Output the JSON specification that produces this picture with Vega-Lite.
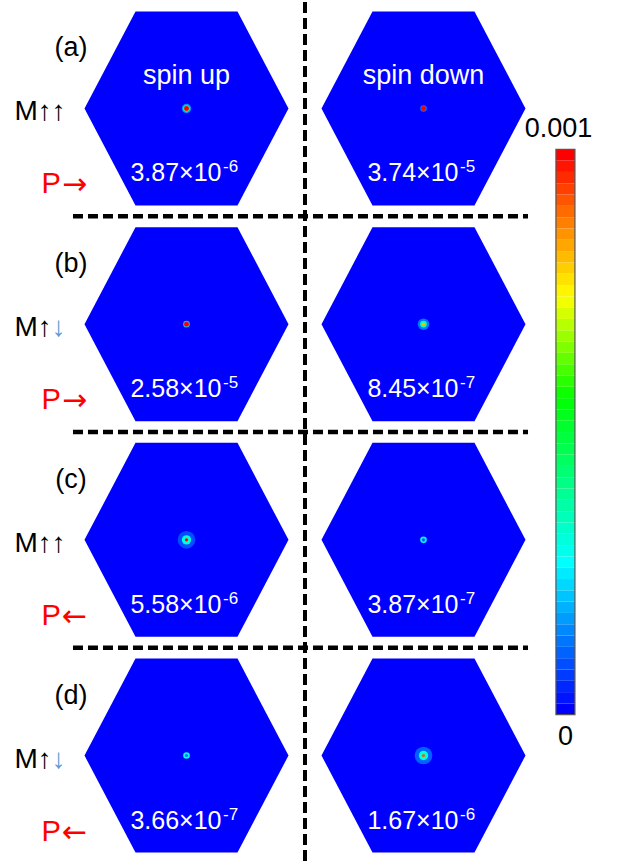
{
  "$schema": "https://vega.github.io/schema/vega-lite/v6.json",
  "width": 618,
  "height": 867,
  "autosize": {"type": "fit", "contains": "padding"},
  "padding": 0,
  "background": "white",
  "config": {"view": {"stroke": null}},
  "datasets": {
    "cells": [
      {"col": 1, "row": 0, "mant": "3.87×10", "exp": "-6"},
      {"col": 2, "row": 0, "mant": "3.74×10", "exp": "-5"},
      {"col": 1, "row": 1, "mant": "2.58×10", "exp": "-5"},
      {"col": 2, "row": 1, "mant": "8.45×10", "exp": "-7"},
      {"col": 1, "row": 2, "mant": "5.58×10", "exp": "-6"},
      {"col": 2, "row": 2, "mant": "3.87×10", "exp": "-7"},
      {"col": 1, "row": 3, "mant": "3.66×10", "exp": "-7"},
      {"col": 2, "row": 3, "mant": "1.67×10", "exp": "-6"}
    ],
    "panels": [
      {"row": 0, "panel": "(a)", "m2": "↑", "dir": "→"},
      {"row": 1, "panel": "(b)", "m2": "↓", "dir": "→"},
      {"row": 2, "panel": "(c)", "m2": "↑", "dir": "←"},
      {"row": 3, "panel": "(d)", "m2": "↓", "dir": "←"}
    ],
    "spots": [
      {"col": 1, "row": 0, "ring": 4, "v": 0.00015},
      {"col": 1, "row": 0, "ring": 3, "v": 0.00035},
      {"col": 1, "row": 0, "ring": 2, "v": 0.001},
      {"col": 2, "row": 0, "ring": 3, "v": 0.00012},
      {"col": 2, "row": 0, "ring": 2, "v": 0.001},
      {"col": 1, "row": 1, "ring": 3, "v": 0.0002},
      {"col": 1, "row": 1, "ring": 2, "v": 0.001},
      {"col": 2, "row": 1, "ring": 5, "v": 0.00012},
      {"col": 2, "row": 1, "ring": 3, "v": 0.00033},
      {"col": 2, "row": 1, "ring": 1, "v": 0.0008},
      {"col": 1, "row": 2, "ring": 6, "v": 0.00008},
      {"col": 1, "row": 2, "ring": 4, "v": 0.0003},
      {"col": 1, "row": 2, "ring": 1, "v": 0.001},
      {"col": 2, "row": 2, "ring": 3, "v": 0.00025},
      {"col": 2, "row": 2, "ring": 1, "v": 0.00008},
      {"col": 1, "row": 3, "ring": 3, "v": 0.0003},
      {"col": 1, "row": 3, "ring": 1, "v": 0.00012},
      {"col": 2, "row": 3, "ring": 6, "v": 0.0001},
      {"col": 2, "row": 3, "ring": 4, "v": 0.0003},
      {"col": 2, "row": 3, "ring": 1, "v": 0.0009}
    ],
    "seps": [{"row": 0.5}, {"row": 1.5}, {"row": 2.5}],
    "bands": [
      {"lo": 0, "hi": 0.00002}, {"lo": 0.00002, "hi": 0.00004}, {"lo": 0.00004, "hi": 0.00006}, {"lo": 0.00006, "hi": 0.00008}, {"lo": 0.00008, "hi": 0.0001},
      {"lo": 0.0001, "hi": 0.00012}, {"lo": 0.00012, "hi": 0.00014}, {"lo": 0.00014, "hi": 0.00016}, {"lo": 0.00016, "hi": 0.00018}, {"lo": 0.00018, "hi": 0.0002},
      {"lo": 0.0002, "hi": 0.00022}, {"lo": 0.00022, "hi": 0.00024}, {"lo": 0.00024, "hi": 0.00026}, {"lo": 0.00026, "hi": 0.00028}, {"lo": 0.00028, "hi": 0.0003},
      {"lo": 0.0003, "hi": 0.00032}, {"lo": 0.00032, "hi": 0.00034}, {"lo": 0.00034, "hi": 0.00036}, {"lo": 0.00036, "hi": 0.00038}, {"lo": 0.00038, "hi": 0.0004},
      {"lo": 0.0004, "hi": 0.00042}, {"lo": 0.00042, "hi": 0.00044}, {"lo": 0.00044, "hi": 0.00046}, {"lo": 0.00046, "hi": 0.00048}, {"lo": 0.00048, "hi": 0.0005},
      {"lo": 0.0005, "hi": 0.00052}, {"lo": 0.00052, "hi": 0.00054}, {"lo": 0.00054, "hi": 0.00056}, {"lo": 0.00056, "hi": 0.00058}, {"lo": 0.00058, "hi": 0.0006},
      {"lo": 0.0006, "hi": 0.00062}, {"lo": 0.00062, "hi": 0.00064}, {"lo": 0.00064, "hi": 0.00066}, {"lo": 0.00066, "hi": 0.00068}, {"lo": 0.00068, "hi": 0.0007},
      {"lo": 0.0007, "hi": 0.00072}, {"lo": 0.00072, "hi": 0.00074}, {"lo": 0.00074, "hi": 0.00076}, {"lo": 0.00076, "hi": 0.00078}, {"lo": 0.00078, "hi": 0.0008},
      {"lo": 0.0008, "hi": 0.00082}, {"lo": 0.00082, "hi": 0.00084}, {"lo": 0.00084, "hi": 0.00086}, {"lo": 0.00086, "hi": 0.00088}, {"lo": 0.00088, "hi": 0.0009},
      {"lo": 0.0009, "hi": 0.00092}, {"lo": 0.00092, "hi": 0.00094}, {"lo": 0.00094, "hi": 0.00096}, {"lo": 0.00096, "hi": 0.00098}, {"lo": 0.00098, "hi": 0.001}
    ]
  },
  "layer": [
    {
      "layer": [
        {
          "data": {"name": "cells"},
          "mark": {"type": "point", "shape": "M -1 0 L -0.5 -0.951 L 0.5 -0.951 L 1 0 L 0.5 0.951 L -0.5 0.951 Z", "size": 41616, "filled": true, "fill": "#0000ff", "opacity": 1, "strokeWidth": 0},
          "encoding": {
            "x": {"field": "col", "type": "quantitative", "scale": {"domain": [0.21308, 2.82068], "nice": false, "zero": false}, "axis": null},
            "y": {"field": "row", "type": "quantitative", "scale": {"domain": [-0.4938, 3.5077], "reverse": true, "nice": false, "zero": false}, "axis": null}
          }
        },
        {
          "data": {"name": "spots"},
          "mark": {"type": "point", "shape": "circle", "filled": true, "opacity": 1, "strokeWidth": 0},
          "encoding": {
            "x": {"field": "col", "type": "quantitative", "scale": {"domain": [0.21308, 2.82068], "nice": false, "zero": false}, "axis": null},
            "y": {"field": "row", "type": "quantitative", "scale": {"domain": [-0.4938, 3.5077], "reverse": true, "nice": false, "zero": false}, "axis": null},
            "color": {"field": "v", "type": "quantitative", "scale": {"domain": [0, 0.00026, 0.00055, 0.00073, 0.00086, 0.00098], "range": ["#0000ff", "#00ffff", "#00ff00", "#ffff00", "#ff8000", "#ff0000"], "clamp": true, "interpolate": "rgb"}, "legend": null},
            "size": {"field": "ring", "type": "quantitative", "scale": {"type": "threshold", "domain": [1.5, 2.5, 3.5, 4.5, 5.5], "range": [10, 24, 44, 87, 133, 314]}, "legend": null}
          }
        },
        {
          "data": {"values": [{"col": 1, "title": "spin up"}, {"col": 2, "title": "spin down"}]},
          "mark": {"type": "text", "font": "Liberation Sans", "fontSize": 27, "color": "#ffffff", "align": "center", "baseline": "middle", "dy": -32},
          "encoding": {
            "x": {"field": "col", "type": "quantitative", "scale": {"domain": [0.21308, 2.82068], "nice": false, "zero": false}, "axis": null},
            "y": {"datum": 0, "type": "quantitative", "scale": {"domain": [-0.4938, 3.5077], "reverse": true, "nice": false, "zero": false}, "axis": null},
            "text": {"field": "title"}
          }
        },
        {
          "data": {"name": "cells"},
          "mark": {"type": "text", "font": "Liberation Sans", "fontSize": 25, "color": "#ffffff", "align": "right", "baseline": "middle", "dx": 35, "dy": 65},
          "encoding": {
            "x": {"field": "col", "type": "quantitative", "scale": {"domain": [0.21308, 2.82068], "nice": false, "zero": false}, "axis": null},
            "y": {"field": "row", "type": "quantitative", "scale": {"domain": [-0.4938, 3.5077], "reverse": true, "nice": false, "zero": false}, "axis": null},
            "text": {"field": "mant"}
          }
        },
        {
          "data": {"name": "cells"},
          "mark": {"type": "text", "font": "Liberation Sans", "fontSize": 17, "color": "#ffffff", "align": "left", "baseline": "middle", "dx": 36.5, "dy": 59},
          "encoding": {
            "x": {"field": "col", "type": "quantitative", "scale": {"domain": [0.21308, 2.82068], "nice": false, "zero": false}, "axis": null},
            "y": {"field": "row", "type": "quantitative", "scale": {"domain": [-0.4938, 3.5077], "reverse": true, "nice": false, "zero": false}, "axis": null},
            "text": {"field": "exp"}
          }
        },
        {
          "data": {"name": "panels"},
          "mark": {"type": "text", "font": "Liberation Sans", "fontSize": 27, "color": "#000000", "align": "center", "baseline": "middle", "dx": -115.5, "dy": -60},
          "encoding": {
            "x": {"datum": 1, "type": "quantitative", "scale": {"domain": [0.21308, 2.82068], "nice": false, "zero": false}, "axis": null},
            "y": {"field": "row", "type": "quantitative", "scale": {"domain": [-0.4938, 3.5077], "reverse": true, "nice": false, "zero": false}, "axis": null},
            "text": {"field": "panel"}
          }
        },
        {
          "data": {"name": "panels"},
          "mark": {"type": "text", "font": "Liberation Sans", "fontSize": 28, "color": "#000000", "align": "left", "baseline": "middle", "dx": -172, "dy": 4},
          "encoding": {
            "x": {"datum": 1, "type": "quantitative", "scale": {"domain": [0.21308, 2.82068], "nice": false, "zero": false}, "axis": null},
            "y": {"field": "row", "type": "quantitative", "scale": {"domain": [-0.4938, 3.5077], "reverse": true, "nice": false, "zero": false}, "axis": null},
            "text": {"value": "M↑"}
          }
        },
        {
          "data": {"name": "panels"},
          "transform": [{"filter": "datum.m2 === '↑'"}],
          "mark": {"type": "text", "font": "Liberation Sans", "fontSize": 28, "color": "#000000", "align": "left", "baseline": "middle", "dx": -134.7, "dy": 4},
          "encoding": {
            "x": {"datum": 1, "type": "quantitative", "scale": {"domain": [0.21308, 2.82068], "nice": false, "zero": false}, "axis": null},
            "y": {"field": "row", "type": "quantitative", "scale": {"domain": [-0.4938, 3.5077], "reverse": true, "nice": false, "zero": false}, "axis": null},
            "text": {"field": "m2"}
          }
        },
        {
          "data": {"name": "panels"},
          "transform": [{"filter": "datum.m2 === '↓'"}],
          "mark": {"type": "text", "font": "Liberation Sans", "fontSize": 28, "color": "#5b9bd5", "align": "left", "baseline": "middle", "dx": -134.7, "dy": 4},
          "encoding": {
            "x": {"datum": 1, "type": "quantitative", "scale": {"domain": [0.21308, 2.82068], "nice": false, "zero": false}, "axis": null},
            "y": {"field": "row", "type": "quantitative", "scale": {"domain": [-0.4938, 3.5077], "reverse": true, "nice": false, "zero": false}, "axis": null},
            "text": {"field": "m2"}
          }
        },
        {
          "data": {"name": "panels"},
          "mark": {"type": "text", "font": "Liberation Sans", "fontSize": 29, "color": "#ff0000", "align": "left", "baseline": "middle", "dx": -145, "dy": 76},
          "encoding": {
            "x": {"datum": 1, "type": "quantitative", "scale": {"domain": [0.21308, 2.82068], "nice": false, "zero": false}, "axis": null},
            "y": {"field": "row", "type": "quantitative", "scale": {"domain": [-0.4938, 3.5077], "reverse": true, "nice": false, "zero": false}, "axis": null},
            "text": {"value": "P"}
          }
        },
        {
          "data": {"name": "panels"},
          "mark": {"type": "text", "font": "DejaVu Sans", "fontSize": 30, "color": "#ff0000", "align": "center", "baseline": "middle", "dx": -112, "dy": 77},
          "encoding": {
            "x": {"datum": 1, "type": "quantitative", "scale": {"domain": [0.21308, 2.82068], "nice": false, "zero": false}, "axis": null},
            "y": {"field": "row", "type": "quantitative", "scale": {"domain": [-0.4938, 3.5077], "reverse": true, "nice": false, "zero": false}, "axis": null},
            "text": {"field": "dir"}
          }
        },
        {
          "data": {"values": [{}]},
          "mark": {"type": "rule", "color": "#000000", "strokeWidth": 4, "strokeDash": [11, 5]},
          "encoding": {
            "x": {"datum": 1.5, "type": "quantitative", "scale": {"domain": [0.21308, 2.82068], "nice": false, "zero": false}, "axis": null}
          }
        },
        {
          "data": {"name": "seps"},
          "mark": {"type": "rule", "color": "#000000", "strokeWidth": 4.5, "strokeDash": [10, 5]},
          "encoding": {
            "x": {"datum": 0.521, "type": "quantitative", "scale": {"domain": [0.21308, 2.82068], "nice": false, "zero": false}, "axis": null},
            "x2": {"datum": 2.441},
            "y": {"field": "row", "type": "quantitative", "scale": {"domain": [-0.4938, 3.5077], "reverse": true, "nice": false, "zero": false}, "axis": null}
          }
        }
      ]
    },
    {
      "layer": [
        {
          "data": {"name": "bands"},
          "mark": {"type": "rect", "strokeWidth": 0},
          "encoding": {
            "x": {"datum": 2.5588, "type": "quantitative", "scale": {"domain": [0.21308, 2.82068], "nice": false, "zero": false}, "axis": null},
            "x2": {"datum": 2.639},
            "y": {"field": "lo", "type": "quantitative", "scale": {"domain": [-0.0002658, 0.0012606], "nice": false, "zero": false}, "axis": null},
            "y2": {"field": "hi"},
            "color": {"field": "lo", "type": "quantitative", "scale": {"domain": [0, 0.00026, 0.00055, 0.00073, 0.00086, 0.00098], "range": ["#0000ff", "#00ffff", "#00ff00", "#ffff00", "#ff8000", "#ff0000"], "clamp": true, "interpolate": "rgb"}, "legend": null}
          }
        },
        {
          "data": {"values": [{}]},
          "mark": {"type": "rect", "filled": false, "stroke": "#555555", "strokeWidth": 1.2},
          "encoding": {
            "x": {"datum": 2.5588, "type": "quantitative", "scale": {"domain": [0.21308, 2.82068], "nice": false, "zero": false}, "axis": null},
            "x2": {"datum": 2.639},
            "y": {"datum": 0, "type": "quantitative", "scale": {"domain": [-0.0002658, 0.0012606], "nice": false, "zero": false}, "axis": null},
            "y2": {"datum": 0.001}
          }
        },
        {
          "data": {"values": [{"lab": "0.001"}]},
          "mark": {"type": "text", "font": "Liberation Sans", "fontSize": 27, "color": "#000000", "align": "center", "baseline": "middle", "dx": -7, "dy": -20},
          "encoding": {
            "x": {"datum": 2.5989, "type": "quantitative", "scale": {"domain": [0.21308, 2.82068], "nice": false, "zero": false}, "axis": null},
            "y": {"datum": 0.001, "type": "quantitative", "scale": {"domain": [-0.0002658, 0.0012606], "nice": false, "zero": false}, "axis": null},
            "text": {"field": "lab"}
          }
        },
        {
          "data": {"values": [{"lab": "0"}]},
          "mark": {"type": "text", "font": "Liberation Sans", "fontSize": 27, "color": "#000000", "align": "center", "baseline": "middle", "dy": 22.5},
          "encoding": {
            "x": {"datum": 2.5989, "type": "quantitative", "scale": {"domain": [0.21308, 2.82068], "nice": false, "zero": false}, "axis": null},
            "y": {"datum": 0, "type": "quantitative", "scale": {"domain": [-0.0002658, 0.0012606], "nice": false, "zero": false}, "axis": null},
            "text": {"field": "lab"}
          }
        }
      ]
    }
  ],
  "resolve": {"scale": {"y": "independent"}}
}
